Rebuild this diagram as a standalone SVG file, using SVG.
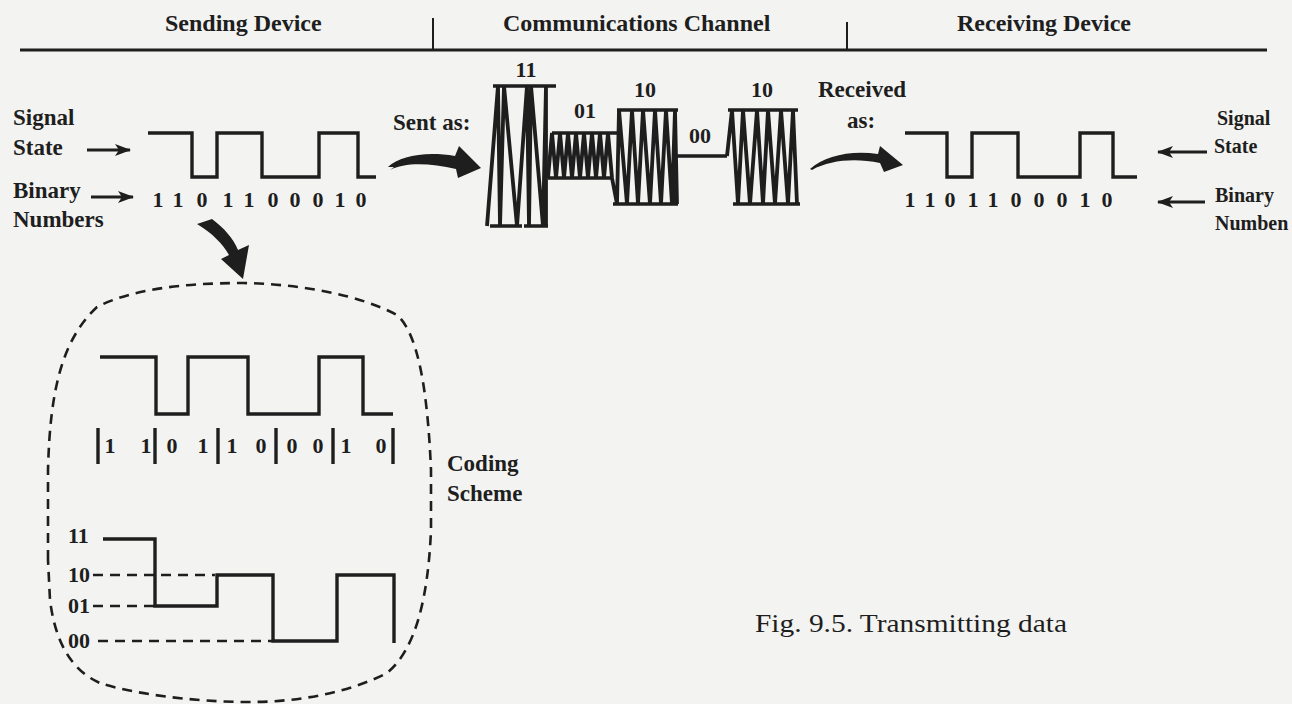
<svg xmlns="http://www.w3.org/2000/svg" width="1292" height="704" viewBox="0 0 1292 704">
<style>
.t{font-family:"Liberation Serif","Times New Roman",serif;font-weight:bold;fill:#1e1e1e}
.h{font-size:24px}
.l{font-size:23px}
.r{font-size:20px}
.d{font-size:22px}
.cap{font-family:"Liberation Serif","Times New Roman",serif;font-size:25px;fill:#1e1e1e}
.w{fill:none;stroke:#1e1e1e;stroke-width:3.4;stroke-linejoin:miter;stroke-linecap:butt}
.z{fill:none;stroke:#1e1e1e;stroke-width:3.8;stroke-linejoin:miter}
.ds{fill:none;stroke:#1e1e1e;stroke-width:2.6;stroke-dasharray:10 7}
.ar{fill:none;stroke:#1e1e1e;stroke-width:3}
.fa{fill:#1e1e1e}
</style>
<defs>
<marker id="ah" viewBox="0 0 16 12" refX="15" refY="6" markerWidth="16" markerHeight="12" markerUnits="userSpaceOnUse" orient="auto">
<path d="M0,0 L16,6 L0,12 L4,6 Z" fill="#1e1e1e"/>
</marker>
</defs>
<rect width="1292" height="704" fill="#f3f3f1"/>

<g id="header">
<line x1="20" y1="50" x2="1267" y2="50" stroke="#1e1e1e" stroke-width="3"/>
<line x1="433" y1="18" x2="433" y2="50" stroke="#1e1e1e" stroke-width="2"/>
<line x1="847" y1="22" x2="847" y2="50" stroke="#1e1e1e" stroke-width="2"/>
<text class="t h" x="165" y="31">Sending Device</text>
<text class="t h" x="503" y="31">Communications Channel</text>
<text class="t h" x="957" y="31">Receiving Device</text>
</g>

<g id="sending-device">
<text class="t l" x="13" y="125">Signal</text>
<text class="t l" x="13" y="155">State</text>
<text class="t l" x="13" y="198">Binary</text>
<text class="t l" x="13" y="227">Numbers</text>
<path class="w" d="M148,133 H192 V177 H217 V133 H262 V177 H319 V133 H358 V177 H376"/>
<text class="t d" x="158 178 202 228 249 273 295 318 340 361" y="207" text-anchor="middle">1101100010</text>
</g>

<g id="channel">
<text class="t d" x="526" y="77" text-anchor="middle">11</text>
<text class="t d" x="585" y="118" text-anchor="middle">01</text>
<text class="t d" x="645" y="97" text-anchor="middle">10</text>
<text class="t d" x="700" y="143" text-anchor="middle">00</text>
<text class="t d" x="762" y="97" text-anchor="middle">10</text>
<text class="t l" x="393" y="130">Sent as:</text>
<path class="z" d="M487,226 L498,86 L500,226 L504,86 L517,226 L527,86 L529,226 L531,86 L543,226 L546,86 L546,226"/>
<path class="w" d="M493,86 H556 M490,226 H522 M524,226 H548"/>
<path class="z" d="M548,178 L552,133 L556,178 L560,133 L564,178 L568,133 L572,178 L576,133 L580,178 L584,133 L588,178 L592,133 L596,178 L600,133 L604,178 L608,133 L612,178"/>
<path class="w" d="M552,133 H617 M548,178 H612"/>
<path class="z" d="M612,178 L617,204 L619,110 L627,204 L632,110 L638,204 L643,110 L650,204 L655,110 L661,204 L666,110 L672,204 L675,110 L677,204"/>
<path class="w" d="M617,110 H678 M613,204 H678"/>
<path class="w" d="M675,204 V156 H727"/>
<path class="z" d="M727,156 L732,110 L738,204 L743,110 L750,204 L757,110 L763,204 L768,110 L775,204 L781,110 L788,204 L793,110 L797,204"/>
<path class="w" d="M728,110 H798 M733,204 H800"/>
<text class="t l" x="818" y="97">Received</text>
<text class="t l" x="847" y="128">as:</text>
</g>

<g id="receiving-device">
<path class="w" d="M905,133 H947 V177 H972 V133 H1018 V177 H1080 V133 H1113 V177 H1137"/>
<text class="t d" x="910 930 950 973 993 1016 1039 1062 1085 1107" y="207" text-anchor="middle">1101100010</text>
<text class="t r" x="1217" y="125">Signal</text>
<text class="t r" x="1214" y="153">State</text>
<text class="t r" x="1215" y="202">Binary</text>
<text class="t r" x="1215" y="230">Numben</text>
</g>

<g id="coding-scheme">
<path class="ds" d="M48,560 L48,470 C50,390 62,340 97,307 C130,290 180,283 243,283 C300,284 360,295 397,315 C420,335 428,400 431,470 L431,530 C428,600 415,650 387,673 C350,692 300,702 250,702 C190,702 130,693 100,683 C70,670 55,640 50,600 Z"/>
<path class="w" d="M100,357 H156 V414 H188 V357 H248 V414 H319 V357 H363 V414 H393"/>
<path class="w" d="M98,428 V464 M155,428 V464 M218,428 V464 M276,428 V464 M333,428 V464 M393,428 V464" stroke-width="2.5"/>
<text class="t d" x="110 146 172 203 232 261 292 318 346 381" y="453" text-anchor="middle">1101100010</text>
<text class="t l" x="447" y="471">Coding</text>
<text class="t l" x="447" y="501">Scheme</text>
<text class="t d" x="68" y="543">11</text>
<text class="t d" x="68" y="582">10</text>
<text class="t d" x="68" y="613">01</text>
<text class="t d" x="68" y="648">00</text>
<path class="ds" d="M93,575 H215 M93,606 H155 M98,641 H273"/>
<path class="w" d="M103,539 H155 V606 H217 V575 H273 V641 H337 V575 H394 V643"/>
</g>

<g id="caption">
<text class="cap" x="755" y="632" textLength="312" lengthAdjust="spacingAndGlyphs">Fig. 9.5. Transmitting data</text>
</g>

<g id="connectors">
<line class="ar" x1="87" y1="150" x2="130" y2="150" marker-end="url(#ah)"/>
<line class="ar" x1="91" y1="197" x2="133" y2="197" marker-end="url(#ah)"/>
<line class="ar" x1="1207" y1="152" x2="1158" y2="152" marker-end="url(#ah)"/>
<line class="ar" x1="1205" y1="202" x2="1158" y2="202" marker-end="url(#ah)"/>
<path class="fa" d="M388,167 C400,156 425,151 455,156 L459,146 L481,168 L458,178 L456,169 C430,163 405,162 390,170 L394,167 Z"/>
<path class="fa" d="M810,169 C825,156 850,150 878,154 L880,146 L903,165 L884,172 L880,163 C855,158 830,160 812,170 Z"/>
<path class="fa" d="M197,224 L212,219 C224,228 233,238 238,250 L249,245 L243,279 L221,259 L229,255 C222,243 212,233 197,224 Z"/>
</g>
</svg>
